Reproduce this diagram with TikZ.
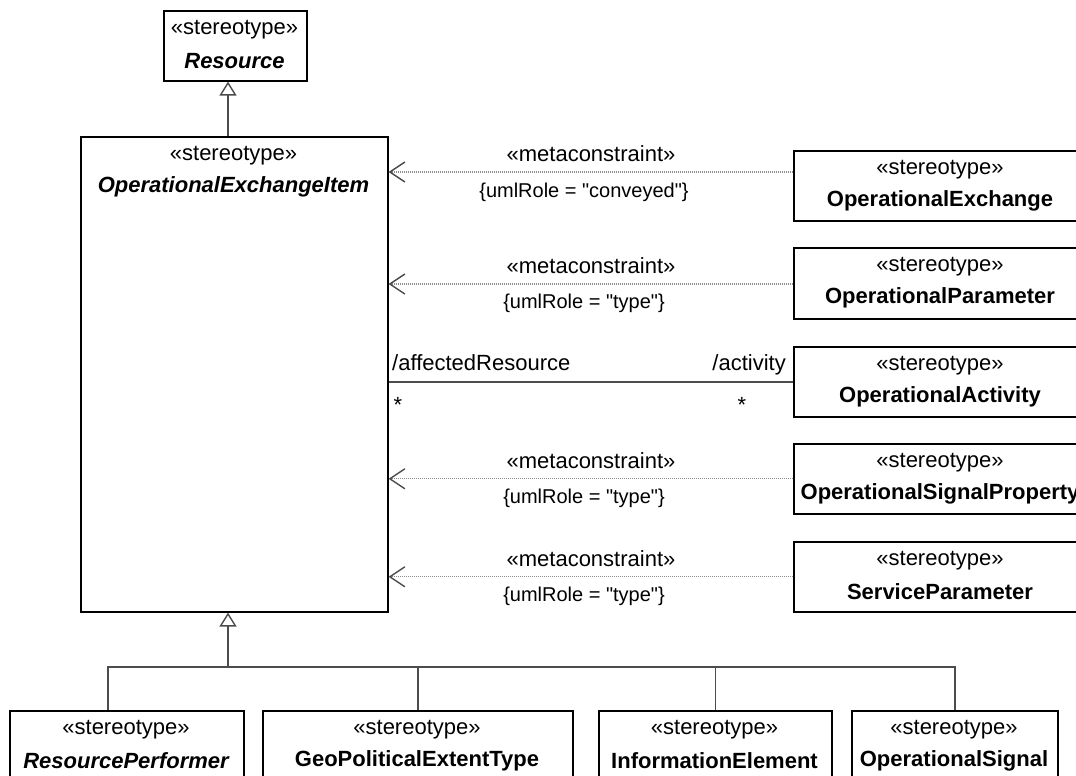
\documentclass[tikz,border=0pt]{standalone}
\usepackage{fontspec}
\setmainfont[Ligatures=TeXReset]{Liberation Sans}
\usetikzlibrary{arrows.meta}
\newcommand{\qd}{\symbol{"22}}
\begin{document}
\begin{tikzpicture}[x=1pt,y=-1pt,
  umlbox/.style={draw=black, line width=1.6pt, fill=white, inner sep=0pt, anchor=north west},
  stxt/.style={inner sep=0pt, font=\fontsize{22}{24}\selectfont},
  ntxt/.style={inner sep=0pt, font=\fontsize{22}{24}\selectfont\bfseries},
  itxt/.style={inner sep=0pt, font=\fontsize{22}{24}\selectfont\bfseries\itshape},
  ctxt/.style={inner sep=0pt, font=\fontsize{20}{22}\selectfont},
  conn/.style={draw=black!70, line width=1.4pt},
  gen/.style={conn, -{Triangle[open, length=14pt, width=17pt, line width=1.4pt]}},
  dep/.style={draw=black!45, line width=1.2pt, dash pattern=on 1.2pt off 0.8pt,
    -{Straight Barb[length=15pt, width=20pt, line width=1.4pt, color=black!70]}}
]
\useasboundingbox (0,0) rectangle (1076,776);
\clip (0,0) rectangle (1076,776);
\fill[white] (0,0) rectangle (1076,776);

% boxes
\node[umlbox, minimum width=143pt, minimum height=70pt] (res) at (163,10) {};
\node[umlbox, minimum width=307pt, minimum height=475pt] (oei) at (80,136) {};
\node[umlbox, minimum width=294pt, minimum height=70pt] (oe)  at (793,150) {};
\node[umlbox, minimum width=294pt, minimum height=71pt] (op)  at (793,247) {};
\node[umlbox, minimum width=294pt, minimum height=70pt] (oa)  at (793,346) {};
\node[umlbox, minimum width=294pt, minimum height=70pt] (osp) at (793,443) {};
\node[umlbox, minimum width=294pt, minimum height=70pt] (sp)  at (793,541) {};
\node[umlbox, minimum width=234pt, minimum height=90pt] (rp)  at (9,710) {};
\node[umlbox, minimum width=310pt, minimum height=90pt] (geo) at (262,710) {};
\node[umlbox, minimum width=233pt, minimum height=90pt] (ie)  at (598,710) {};
\node[umlbox, minimum width=206pt, minimum height=90pt] (os)  at (851,710) {};

% box texts
\node[stxt] (resS) at (234.5,30) {«stereotype»};
\node[itxt] (resN) at (234.5,61) {Resource};
\node[stxt] (oeiS) at (233.5,156) {«stereotype»};
\node[itxt] (oeiN) at (233.5,187) {OperationalExchangeItem};
\node[stxt] (oeS) at (940,170) {«stereotype»};
\node[ntxt] (oeN) at (940,201) {OperationalExchange};
\node[stxt] (opS) at (940,267) {«stereotype»};
\node[ntxt] (opN) at (940,298) {OperationalParameter};
\node[stxt] (oaS) at (940,366) {«stereotype»};
\node[ntxt] (oaN) at (940,397) {OperationalActivity};
\node[stxt] (ospS) at (940,463) {«stereotype»};
\node[ntxt] (ospN) at (940,494) {OperationalSignalProperty};
\node[stxt] (spS) at (940,561) {«stereotype»};
\node[ntxt] (spN) at (940,592) {ServiceParameter};
\node[stxt] (rpS) at (126,730) {«stereotype»};
\node[itxt] (rpN) at (126,761) {ResourcePerformer};
\node[stxt] (geoS) at (417,730) {«stereotype»};
\node[ntxt] (geoN) at (417,761) {GeoPoliticalExtentType};
\node[stxt] (ieS) at (714.5,730) {«stereotype»};
\node[ntxt] (ieN) at (714.5,761) {InformationElement};
\node[stxt] (osS) at (954,730) {«stereotype»};
\node[ntxt] (osN) at (954,761) {OperationalSignal};

% generalization Resource
\coordinate (g1) at (228,0);
\draw[gen] (g1 |- oei.north) -- (g1 |- res.south);

% generalization tree
\coordinate (bus) at (228,667);
\coordinate (rpx) at (108,0);
\draw[gen] (bus) -- (bus |- oei.south);
\draw[conn] (rpx |- rp.north) |- (os.north |- bus) -- (os.north);
\draw[conn] (geo.north) -- (geo.north |- bus);
\draw[conn] (ie.north) -- (ie.north |- bus);

% dependencies
\coordinate (d1) at (0,172);
\coordinate (d2) at (0,284);
\draw[dep] (oe.west |- d1) -- (oei.east |- d1);
\draw[dep] (op.west |- d2) -- (oei.east |- d2);
\draw[dep] (osp.west) -- (oei.east |- osp.west);
\draw[dep] (sp.west) -- (oei.east |- sp.west);

\node[stxt] (m1) at (591,154) {«metaconstraint»};
\node[ctxt] (c1) at (584,192) {\{umlRole = \qd conveyed\qd\}};
\node[stxt] (m2) at (591,266) {«metaconstraint»};
\node[ctxt] (c2) at (584,303) {\{umlRole = \qd type\qd\}};
\node[stxt] (m4) at (591,461) {«metaconstraint»};
\node[ctxt] (c4) at (584,498) {\{umlRole = \qd type\qd\}};
\node[stxt] (m5) at (591,559) {«metaconstraint»};
\node[ctxt] (c5) at (584,596) {\{umlRole = \qd type\qd\}};

% association
\draw[conn] (oei.east |- oa.west) -- (oa.west);
\node[stxt, anchor=base west] (ar) at (392,370) {/affectedResource};
\node[stxt, anchor=base east] (ac) at (786,370) {/activity};
\node[stxt, anchor=base] (m1l) at (398,412) {*};
\node[stxt, anchor=base] (m1r) at (742,412) {*};
\end{tikzpicture}
\end{document}
